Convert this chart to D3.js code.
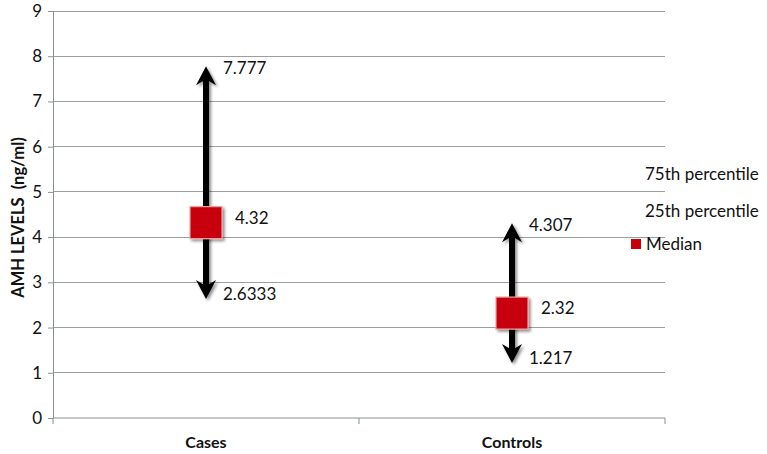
<!DOCTYPE html>
<html><head><meta charset="utf-8">
<script src="https://cdn.jsdelivr.net/npm/d3@7"></script>
<style>body{margin:0;background:#fff}svg{display:block}text{font-family:Lato,"Open Sans",sans-serif;fill:#111}</style>
</head><body>
<svg id="c" width="767" height="454"></svg>
<script>
const categories = ["Cases", "Controls"];
const p75 = [7.777, 4.307];
const p25 = [2.6333, 1.217];
const median = [4.32, 2.32];
const yTicks = [0,1,2,3,4,5,6,7,8,9];
const legendLabels = ["75th percentile", "25th percentile", "Median"];

const svg = d3.select("#c");
const m = {l:53, r:665, t:11, b:418};
const x = d3.scaleBand().domain(categories).range([m.l, m.r]).padding(0);
const y = d3.scaleLinear().domain([0,9]).range([m.b, m.t]);

const defs = svg.append("defs");
const f = defs.append("filter").attr("id","sh").attr("x","-50%").attr("y","-50%").attr("width","200%").attr("height","200%");
f.append("feGaussianBlur").attr("in","SourceAlpha").attr("stdDeviation",1.5).attr("result","b");
f.append("feOffset").attr("in","b").attr("dx",1.5).attr("dy",1.5).attr("result","o");
f.append("feComponentTransfer").attr("in","o").attr("result","o2").append("feFuncA").attr("type","linear").attr("slope",0.45);
const mg = f.append("feMerge"); mg.append("feMergeNode").attr("in","o2"); mg.append("feMergeNode").attr("in","SourceGraphic");

// gridlines
svg.append("g").selectAll("line").data(yTicks.slice(1)).join("line")
  .attr("x1", m.l).attr("x2", m.r).attr("y1", d=>y(d)).attr("y2", d=>y(d))
  .attr("stroke","#9a9f9f").attr("stroke-width",1).attr("shape-rendering","crispEdges");

// y axis
const ya = svg.append("g").attr("transform",`translate(${m.l},0)`).call(d3.axisLeft(y).tickValues(yTicks).tickSize(5).tickPadding(6).tickFormat(d3.format("d")));
ya.select(".domain").attr("stroke","#8a9090");
ya.selectAll(".tick line").attr("stroke","#8a9090");
ya.selectAll(".tick text").attr("font-size",17).attr("fill","#111").style("font-family","Lato,'Open Sans',sans-serif");

// x axis
const xa = svg.append("g").attr("transform",`translate(0,${m.b})`)
  .call(d3.axisBottom(x).tickSize(0).tickPadding(19));
xa.select(".domain").attr("stroke","#8a9090").attr("d", `M${m.l},0H${m.r}`);
xa.selectAll(".tick text").attr("font-size",16).attr("font-weight","bold").attr("fill","#111").style("font-family","Lato,'Open Sans',sans-serif");
svg.append("g").selectAll("line").data([m.l, ...categories.map(c=>x(c)+x.bandwidth())]).join("line")
  .attr("x1",d=>d).attr("x2",d=>d).attr("y1",m.b).attr("y2",m.b+6).attr("stroke","#8a9090");

// y title
svg.append("text").attr("transform",`translate(24,${(m.t+m.b)/2+3}) rotate(-90)`).attr("text-anchor","middle")
  .attr("font-size",16.5).attr("font-weight","bold").text("AMH LEVELS \u00a0(ng/ml)");

// arrows
function head(cx, yt, dir){ // dir -1 up, 1 down
  const h=19, w=10, n=6;
  return `M${cx},${yt} L${cx+w},${yt-dir*h} L${cx},${yt-dir*(h-n)} L${cx-w},${yt-dir*h} Z`;
}
const g = svg.append("g").attr("filter","url(#sh)");
categories.forEach((c,i)=>{
  const cx = x(c)+x.bandwidth()/2;
  g.append("line").attr("x1",cx).attr("x2",cx).attr("y1",y(p75[i])+12).attr("y2",y(p25[i])-12)
    .attr("stroke","#000").attr("stroke-width",6);
  g.append("path").attr("d",head(cx,y(p75[i]),-1)).attr("fill","#000");
  g.append("path").attr("d",head(cx,y(p25[i]),1)).attr("fill","#000");
});
const sq = 32;
svg.append("g").selectAll("rect").data(categories).join("rect")
  .attr("x",c=>x(c)+x.bandwidth()/2-sq/2).attr("y",(c,i)=>y(median[i])-sq/2)
  .attr("width",sq).attr("height",sq).attr("fill","#c8000a").attr("stroke","#e9a3a3").attr("stroke-width",1.2)
  .attr("filter","url(#sh)");

// labels
const lab = svg.append("g").attr("font-size",17);
categories.forEach((c,i)=>{
  const cx = x(c)+x.bandwidth()/2;
  lab.append("text").attr("x",cx+17).attr("y",y(p75[i])+2).attr("dy","0.35em").text(p75[i]);
  lab.append("text").attr("x",cx+17).attr("y",y(p25[i])-5).attr("dy","0.35em").text(p25[i]);
  lab.append("text").attr("x",cx+29).attr("y",y(median[i])-5).attr("dy","0.35em").text(median[i]);
});

// legend
const lg = svg.append("g").attr("font-size",17);
const legY = [174, 211, 244];
lg.selectAll("text").data(legendLabels).join("text")
  .attr("x",(d,i)=> i<2 ? 645 : 646).attr("y",(d,i)=>legY[i]).attr("dy","0.35em").text(d=>d);
lg.append("rect").attr("x",631).attr("y",legY[2]-5).attr("width",10).attr("height",10).attr("fill","#c8000a");
</script>
</body></html>
